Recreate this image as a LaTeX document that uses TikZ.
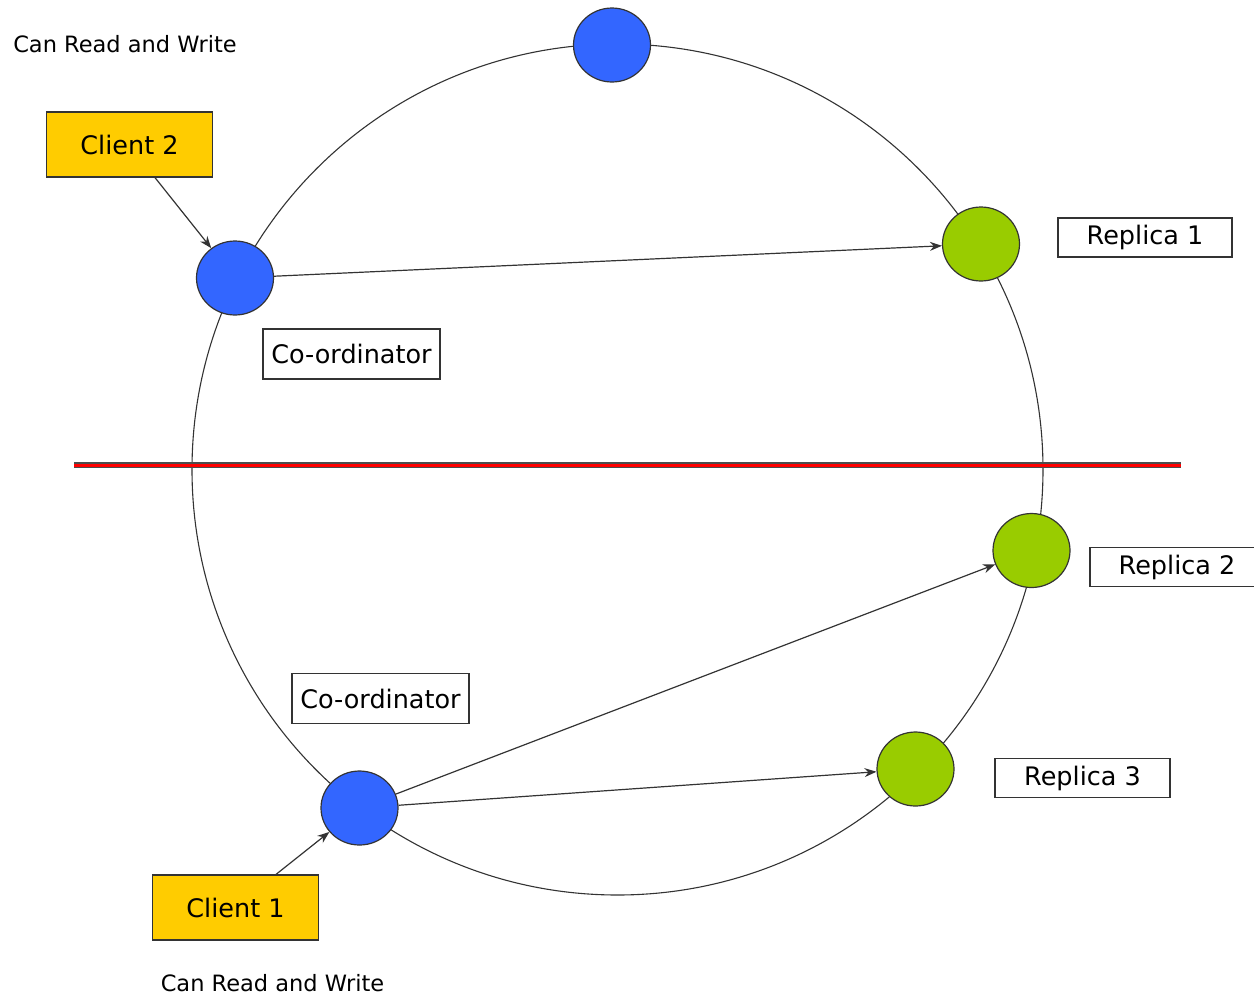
\documentclass[tikz,border=0pt]{standalone}
\usepackage{fontspec}
\setmainfont{DejaVu Sans}
\usepackage{xcolor}
\usepackage{tikz}
\usetikzlibrary{arrows.meta,shapes.geometric}
\definecolor{cblue}{HTML}{3366FF}
\definecolor{cgreen}{HTML}{99CC00}
\definecolor{cyellow}{HTML}{FFCC00}
\definecolor{cline}{HTML}{333333}

\begin{document}
\begin{tikzpicture}[x=1pt,y=-1pt,
  peer/.style={ellipse,draw=cline,line width=1.2pt,minimum width=77pt,minimum height=74pt,inner sep=0pt},
  clientbox/.style={rectangle,draw=cline,line width=1.2pt,fill=cyellow,minimum width=166pt,minimum height=65pt,inner sep=0pt,font=\fontsize{25.5}{30}\selectfont},
  labelbox/.style={rectangle,draw=cline,line width=1.2pt,fill=white,minimum height=39pt,inner sep=0pt,font=\fontsize{25.5}{30}\selectfont},
  caption/.style={font=\fontsize{22.5}{27}\selectfont,text=black},
  msg/.style={draw=cline,line width=1.2pt,-{Stealth[length=12pt,width=9pt]}}]
  \useasboundingbox (0,0) rectangle (1254,997);

  % ring
  \draw[cline,line width=1.1pt] (617.5,469.5) circle (425.5);

  % partition
  \draw[draw=black!70,line width=1.2pt,double=red,double distance=3pt] (74,465) -- (1181,465);

  % peers on the ring
  \node[peer,fill=cblue] (top) at (612,45) {};
  \node[peer,fill=cblue] (coordA) at (235,278) {};
  \node[peer,fill=cblue] (coordB) at (359.5,808) {};
  \node[peer,fill=cgreen] (repA) at (981,244) {};
  \node[peer,fill=cgreen] (repB) at (1031.5,550.5) {};
  \node[peer,fill=cgreen] (repC) at (915.5,769) {};

  % clients and labels
  \node[clientbox] (clientB) at (129.5,144.5) {Client 2};
  \node[clientbox] (clientA) at (235.5,907.5) {Client 1};
  \node[labelbox,minimum width=174pt] (labA) at (1145,237.5) {Replica 1};
  \node[labelbox,minimum width=174pt] (labB) at (1177,567) {Replica 2};
  \node[labelbox,minimum width=175pt] (labC) at (1082.5,778) {Replica 3};
  \node[labelbox,minimum width=177pt,minimum height=50pt] (labD) at (351.5,354) {Co-ordinator};
  \node[labelbox,minimum width=177pt,minimum height=50pt] (labE) at (380.5,698.5) {Co-ordinator};
  \node[caption] (capA) at (125,44) {Can Read and Write};
  \node[caption] (capB) at (272.5,983) {Can Read and Write};

  % requests
  \draw[msg] ([xshift=25.5pt]clientB.south) -- (coordA);
  \draw[msg] (coordA) -- (repA);
  \draw[msg] ([xshift=40.5pt]clientA.north) -- (coordB);
  \draw[msg] (coordB) -- (repB);
  \draw[msg] (coordB) -- (repC);
\end{tikzpicture}
\end{document}
